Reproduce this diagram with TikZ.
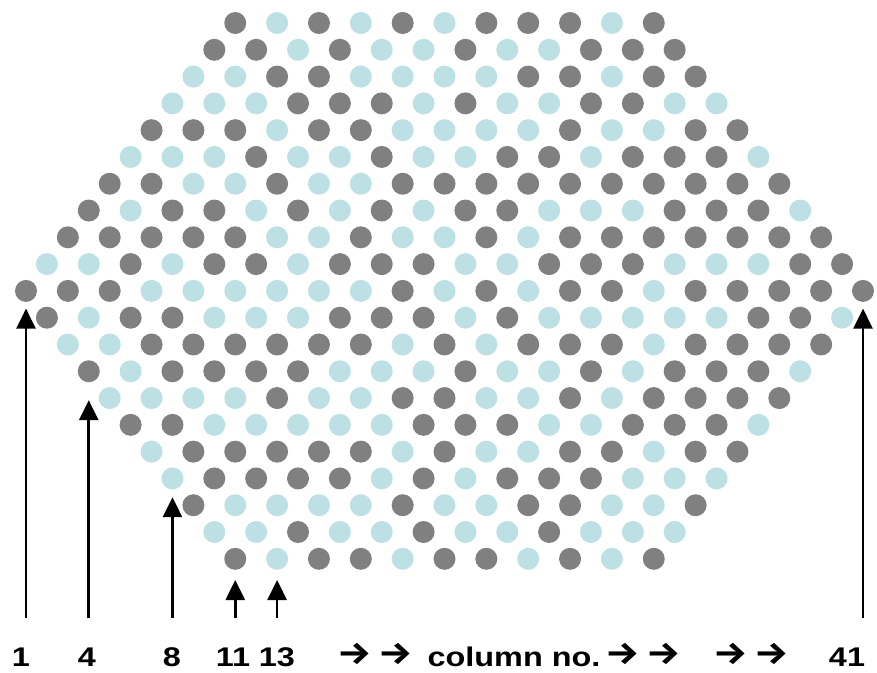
\documentclass[tikz,border=0pt]{standalone}
\usepackage{fontspec}
\setmainfont{Liberation Sans}
\newfontfamily\arrfont{Fira Sans}
\usetikzlibrary{arrows.meta}
\definecolor{dk}{RGB}{128,128,128}
\definecolor{lt}{RGB}{188,224,228}
\begin{document}
\begin{tikzpicture}[x=1pt,y=-1pt,
  dot/.style={circle,inner sep=0pt,minimum size=22pt,draw=none},
  dotD/.style={dot,fill=dk},
  dotL/.style={dot,fill=lt},
  ptr/.style={line width=2.7pt,-{Triangle[width=19pt,length=20pt]}},
  lbl/.style={font=\bfseries\fontsize{27}{30}\selectfont,anchor=base,xscale=1.2,inner sep=0pt},
  arrlbl/.style={font=\arrfont\bfseries\fontsize{32}{34}\selectfont,anchor=base,xscale=1.2,inner sep=0pt}]
\useasboundingbox (0,0) rectangle (877,672);
\foreach \r/\s/\cols in {%
 1/11/{D,L,D,L,D,L,D,D,D,L,D},%
 2/10/{D,D,L,D,L,L,D,L,L,D,D,D},%
 3/9/{L,L,D,D,L,L,L,L,D,D,L,D,D},%
 4/8/{L,L,L,D,D,D,L,D,L,L,D,D,L,L},%
 5/7/{D,D,D,L,D,D,L,L,L,L,D,L,L,D,D},%
 6/6/{L,L,L,D,L,L,D,L,L,D,D,L,D,D,D,L},%
 7/5/{D,D,L,L,D,L,L,D,D,D,D,D,D,D,D,D,D},%
 8/4/{D,L,D,D,L,D,L,D,L,D,D,L,L,L,D,D,D,L},%
 9/3/{D,D,D,D,D,L,L,D,L,L,D,L,D,D,D,D,D,D,D},%
 10/2/{L,L,D,L,D,D,L,D,D,D,L,L,D,D,D,L,L,L,D,D},%
 11/1/{D,D,D,L,L,L,L,L,L,D,L,D,L,D,D,L,D,D,D,D,D},%
 12/2/{D,L,D,D,L,L,L,D,D,D,L,D,L,L,L,L,L,D,D,L},%
 13/3/{L,L,D,D,D,D,D,D,L,D,L,D,D,D,L,D,D,D,D},%
 14/4/{D,L,D,D,D,D,L,L,L,D,L,L,D,L,D,D,D,L},%
 15/5/{L,L,L,L,D,L,L,D,D,L,L,D,L,D,D,D,D},%
 16/6/{D,D,L,L,L,L,L,D,D,D,L,L,D,D,D,L},%
 17/7/{L,D,D,D,D,D,L,D,L,L,D,D,L,D,D},%
 18/8/{L,D,D,D,D,L,D,L,D,D,D,L,L,L},%
 19/9/{D,L,L,L,L,D,L,L,D,D,L,L,D},%
 20/10/{L,L,D,L,L,D,L,L,D,L,L,L},%
 21/11/{D,L,D,D,L,D,D,L,D,L,D}}{%
  \foreach \k [count=\i from 0] in \cols {%
    \pgfmathtruncatemacro\c{\s+2*\i}%
    \node[dot\k] (d-\c-\r) at ({26+(\c-1)*20.925},{23+(\r-1)*26.79}) {};
  }%
}
\coordinate (base) at (0,618);
\draw[ptr,shorten >=6.5pt] (d-1-11 |- base) -- (d-1-11);
\draw[ptr,shorten >=17.7pt] (d-4-14 |- base) -- (d-4-14);
\draw[ptr,shorten >=7.6pt] (d-8-18 |- base) -- (d-8-18);
\draw[ptr,shorten >=10pt] (d-11-21 |- base) -- (d-11-21);
\draw[ptr,shorten >=10pt] (d-13-21 |- base) -- (d-13-21);
\draw[ptr,shorten >=6.5pt] (d-41-11 |- base) -- (d-41-11);
\node[lbl] (l1) at (21,666) {1};
\node[lbl] (l4) at (87,666) {4};
\node[lbl] (l8) at (172,666) {8};
\node[lbl] (l11) at (233,666) {11};
\node[lbl] (l13) at (277,666) {13};
\node[arrlbl] (a1) at (375,664) {→\,→};
\node[lbl] (cn) at (514,666) {column no.};
\node[arrlbl] (a2) at (643,664) {→\,→};
\node[arrlbl] (a3) at (751,664) {→\,→};
\node[lbl] (l41) at (847,666) {41};
\end{tikzpicture}
\end{document}
